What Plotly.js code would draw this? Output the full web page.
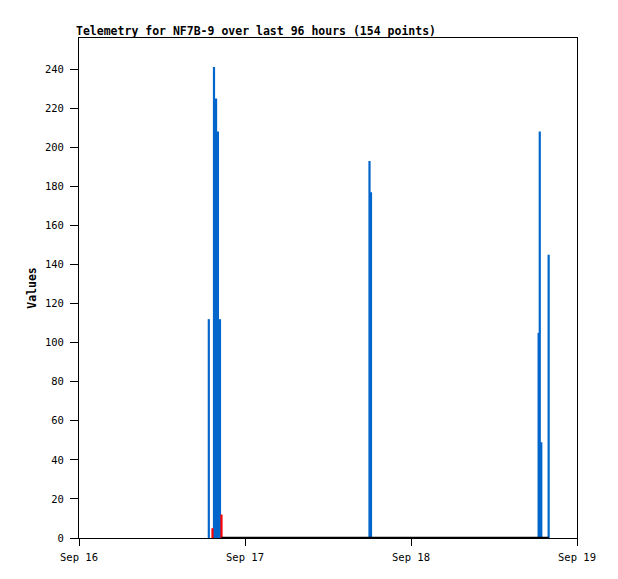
<!DOCTYPE html>
<html>
<head>
<meta charset="utf-8">
<script src="https://cdn.plot.ly/plotly-3.0.1.min.js"></script>
<style>html,body{margin:0;padding:0;background:#fff;}</style>
</head>
<body>
<div id="chart" style="width:618px;height:579px;"></div>
<script>
// Telemetry readings (non-zero)
const blueTimes = [
  "2023-09-16 18:46", "2023-09-16 19:31", "2023-09-16 19:49", "2023-09-16 20:05", "2023-09-16 20:23",
  "2023-09-17 18:00", "2023-09-17 18:13",
  "2023-09-18 18:27", "2023-09-18 18:37", "2023-09-18 18:50", "2023-09-18 19:54"
];
const blueValues = [112, 241, 225, 208, 112, 193, 177, 105, 208, 49, 145];

// Flagged readings (red)
const redTimes = ["2023-09-16 19:18", "2023-09-16 20:36"];
const redValues = [5, 12];

// Span of zero-valued readings
const zeroTimes = ["2023-09-16 20:36", "2023-09-18 19:54"];
const zeroValues = [0, 0];

const xTickVals = ["2023-09-16", "2023-09-17", "2023-09-18", "2023-09-19"];
const xTickText = ["Sep 16", "Sep 17", "Sep 18", "Sep 19"];
const titleText = "Telemetry for NF7B-9 over last 96 hours (154 points)";
const yTitle = "Values";

const barWidth = 19 * 60 * 1000;
const mono = '"DejaVu Sans Mono", "Liberation Mono", monospace';

const traces = [
  {type: 'bar', x: blueTimes, y: blueValues, width: barWidth,
   marker: {color: '#0066CC', line: {width: 0}}, hoverinfo: 'x+y'},
  {type: 'bar', x: redTimes, y: redValues, width: barWidth,
   marker: {color: '#FF0000', line: {width: 0}}, hoverinfo: 'x+y'},
  {type: 'scatter', mode: 'lines', x: zeroTimes, y: zeroValues,
   line: {color: '#000000', width: 2.5}, hoverinfo: 'skip'}
];

const layout = {
  width: 618, height: 579,
  margin: {l: 79, r: 41, t: 38, b: 41, pad: 0},
  paper_bgcolor: '#ffffff', plot_bgcolor: '#ffffff',
  showlegend: false,
  barmode: 'overlay',
  font: {family: mono, size: 10.5, color: '#000'},
  title: {text: '<b>' + titleText + '</b>', x: 76/618, xref: 'container', xanchor: 'left',
          y: 1 - 31/579, yref: 'container', yanchor: 'middle',
          font: {family: mono, size: 11.5, color: '#000'}},
  xaxis: {type: 'date', range: ["2023-09-16 00:00", "2023-09-19 00:00"],
          tickmode: 'array', tickvals: xTickVals, ticktext: xTickText,
          ticks: 'outside', ticklen: 7, tickcolor: '#000', tickwidth: 1,
          showline: true, linecolor: '#000', linewidth: 1, mirror: true,
          showgrid: false, zeroline: false, ticklabelstandoff: 2,
          tickfont: {family: mono, size: 10.5, color: '#000'}},
  yaxis: {range: [0, 255.9], tickmode: 'linear', tick0: 0, dtick: 20,
          ticks: 'outside', ticklen: 8, tickcolor: '#000', tickwidth: 1,
          showline: true, linecolor: '#000', linewidth: 1, mirror: true,
          showgrid: false, zeroline: false, ticklabelstandoff: 4,
          tickfont: {family: mono, size: 10.5, color: '#000'},
          title: {text: '<b>' + yTitle + '</b>', standoff: 5,
                  font: {family: mono, size: 11.5, color: '#000'}}}
};

Plotly.newPlot('chart', traces, layout, {displayModeBar: false, staticPlot: true});
</script>
</body>
</html>
